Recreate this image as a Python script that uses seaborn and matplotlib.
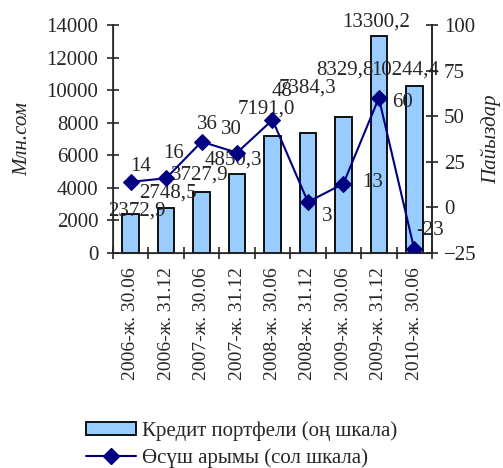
import numpy as np
import pandas as pd
import matplotlib
matplotlib.use("Agg")
import matplotlib.pyplot as plt
import seaborn as sns
from matplotlib.patches import Patch
from matplotlib.lines import Line2D

periods = ["2006-ж. 30.06", "2006-ж. 31.12", "2007-ж. 30.06", "2007-ж. 31.12",
           "2008-ж. 30.06", "2008-ж. 31.12", "2009-ж. 30.06", "2009-ж. 31.12",
           "2010-ж. 30.06"]
portfolio = [2372.9, 2748.5, 3727.9, 4850.3, 7191.0, 7384.3, 8329.8, 13300.2, 10244.4]
growth = [14, 16, 36, 30, 48, 3, 13, 60, -23]

# label nudges (pixels) to mimic the hand-placed labels of the original
bar_off = [(6, 3), (2, 15), (-2, 17), (-4, 14), (-6, 27), (0, 45), (2, 47), (-3, 14), (-9, 16)]
line_off = [(10, 15), (7, 25), (6, 17), (-6, 23), (10, 28), (19, -15), (29, 1), (24, -5), (16, 19)]

sns.set_style("ticks")
plt.rcParams["font.family"] = ["Liberation Serif", "DejaVu Serif"]
fs = 15

df = pd.DataFrame({"period": periods, "portfolio": portfolio, "growth": growth})

fig = plt.figure(figsize=(5.03, 4.68), dpi=100)
ax = fig.add_axes([113 / 503, 1 - 253 / 468, 319 / 503, 228 / 468])
sns.barplot(data=df, x="period", y="portfolio", ax=ax, color="#99CCFF",
            edgecolor="black", linewidth=1.3, width=0.47, saturation=1)
ax.set_ylim(0, 14000)
ax.set_yticks(range(0, 14001, 2000))
ax.set_xlim(-0.5, len(periods) - 0.5)
ax.set_xticks(np.arange(len(periods)))
ax.set_xticklabels(periods, rotation=90, fontsize=14)
ax.set_xticks(np.arange(-0.5, len(periods), 1), minor=True)
ax.tick_params(axis="x", which="major", length=0, pad=10)
ax.tick_params(axis="x", which="minor", length=9, width=1.2, direction="inout")
ax.tick_params(axis="y", length=9, width=1.2, direction="inout", labelsize=fs, pad=6)
ax.set_xlabel("")
ax.set_ylabel("Млн.сом", fontsize=fs, style="italic", labelpad=10)
for s in ["left", "bottom", "right"]:
    ax.spines[s].set_linewidth(1.2)
ax.spines["top"].set_visible(False)

for i, v in enumerate(portfolio):
    ax.annotate(f"{v:.1f}".replace(".", ","), (i, v), xytext=bar_off[i],
                textcoords="offset pixels", ha="center", va="center", fontsize=fs)

ax2 = ax.twinx()
sns.lineplot(x=np.arange(len(periods)), y=growth, ax=ax2, color="#000080",
             linewidth=1.5, marker="D", markersize=8, markeredgecolor="#000080")
ax2.set_ylim(-25, 100)
ax2.set_yticks(range(-25, 101, 25))
ax2.tick_params(axis="y", length=9, width=1.2, direction="inout", labelsize=fs, pad=4)
ax2.set_ylabel("Пайыздар", fontsize=fs, style="italic", labelpad=3)
ax2.spines["right"].set_linewidth(1.2)
ax2.spines["top"].set_visible(False)
for i, v in enumerate(growth):
    ax2.annotate(str(v), (i, v), xytext=line_off[i], textcoords="offset pixels",
                 ha="center", va="center", fontsize=fs)

handles = [Patch(facecolor="#99CCFF", edgecolor="black", linewidth=1.3),
           Line2D([], [], color="#000080", linewidth=1.5, marker="D", markersize=8)]
fig.legend(handles, ["Кредит портфели (оң шкала)", "Өсүш арымы (сол шкала)"],
           loc="lower left", bbox_to_anchor=(86 / 503, 0.0), frameon=False,
           fontsize=fs, handlelength=2.4, handleheight=0.6, handletextpad=0.3,
           labelspacing=0.35, borderaxespad=0.0, borderpad=0.0)

fig.savefig("out.png", dpi=100)
